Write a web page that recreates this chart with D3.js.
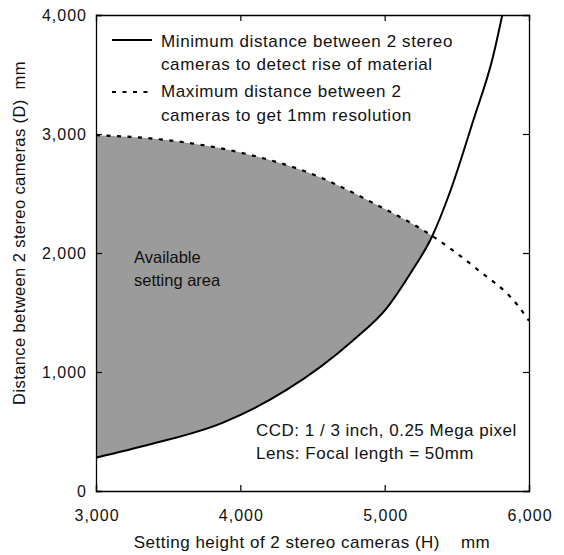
<!DOCTYPE html>
<html><head><meta charset="utf-8">
<script src="https://cdn.jsdelivr.net/npm/d3@7"></script>
<style>
body{margin:0;background:#fff;}
svg text{font-family:"Liberation Sans",Arial,sans-serif;fill:#111;white-space:pre;}
</style></head>
<body><svg id="c" width="564" height="555"></svg>
<script>
// Minimum distance curve (solid): H (mm), D (mm)
const minH = [3000,3370,3880,4320,4780,5020,5180,5330,5450,5615,5750,5815];
const minD = [280, 390, 575, 849,1265,1546,1832,2143,2504,3118,3647,4000];
// Maximum distance curve (dotted)
const maxH = [3000,3420,4070,4480,4920,5330,5630,5920,6000];
const maxD = [2990,2958,2824,2672,2420,2143,1874,1563,1430];
const xTicks = [3000,4000,5000,6000];
const yTicks = [0,1000,2000,3000,4000];
const legendLines = [["Minimum distance between 2 stereo","cameras to detect rise of material"],
                     ["Maximum distance between 2","cameras to get 1mm resolution"]];
const areaLabel = ["Available","setting area"];
const noteLines = ["CCD: 1 / 3 inch, 0.25 Mega pixel","Lens: Focal length = 50mm"];
const xTitle = "Setting height of 2 stereo cameras (H)    mm";
const yTitle = "Distance between 2 stereo cameras (D)  mm";

const L=96,R=529,T=15,B=491;
const svg=d3.select("#c");
svg.append("rect").attr("width",564).attr("height",555).attr("fill","#fff");
const x=d3.scaleLinear().domain([3000,6000]).range([L,R]);
const y=d3.scaleLinear().domain([0,4000]).range([B,T]);

const minPts=minH.map((h,i)=>[h,minD[i]]);
const maxPts=maxH.map((h,i)=>[h,maxD[i]]);
const curve=d3.curveMonotoneX;

// clip: region above the minimum curve
svg.append("clipPath").attr("id","aboveMin").append("path")
  .attr("d",d3.area().curve(curve).x(p=>x(p[0])).y0(T-5).y1(p=>y(p[1]))(minPts));
// grey: region under the maximum curve, clipped to above the min curve
svg.append("path").attr("clip-path","url(#aboveMin)")
  .attr("d",d3.area().curve(curve).x(p=>x(p[0])).y0(B).y1(p=>y(p[1]))(maxPts))
  .attr("fill","#9b9b9b");

const dash="4,6.5";
const line=d3.line().curve(curve).x(p=>x(p[0])).y(p=>y(p[1]));
svg.append("path").attr("d",line(maxPts)).attr("fill","none").attr("stroke","#000").attr("stroke-width",2.2).attr("stroke-dasharray",dash);
svg.append("path").attr("d",line(minPts)).attr("fill","none").attr("stroke","#000").attr("stroke-width",2);

// axes
const fs=16;
const gx=svg.append("g").attr("transform",`translate(0,${B})`).call(d3.axisBottom(x).tickValues(xTicks).tickSize(-6).tickPadding(19).tickFormat(d3.format(",")));
const gy=svg.append("g").attr("transform",`translate(${L},0)`).call(d3.axisLeft(y).tickValues(yTicks).tickSize(-6).tickPadding(9).tickFormat(d3.format(",")));
svg.append("g").attr("transform",`translate(0,${T})`).call(d3.axisTop(x).tickValues([4000,5000]).tickSize(-6).tickFormat(""));
svg.append("g").attr("transform",`translate(${R},0)`).call(d3.axisRight(y).tickValues([1000,2000,3000]).tickSize(-6).tickFormat(""));
svg.selectAll(".domain").attr("stroke","#000").attr("stroke-width",1.3);
svg.selectAll(".tick line").attr("stroke","#000").attr("stroke-width",1.2);
svg.selectAll(".tick text").attr("font-size",fs).attr("font-family","Liberation Sans, Arial, sans-serif").attr("fill","#111").style("letter-spacing","1px");
gx.selectAll(".tick text").attr("dx","0.5px");

// legend
const lg=svg.append("g");
[[40,null],[92,dash]].forEach((d,i)=>{
  lg.append("line").attr("x1",112).attr("x2",152).attr("y1",d[0]).attr("y2",d[0]).attr("stroke","#000").attr("stroke-width",2).attr("stroke-dasharray",d[1]);
});
const lgY=[[47,70],[97,121]];
legendLines.forEach((ls,i)=>ls.forEach((t,j)=>{
  lg.append("text").attr("x",161).attr("y",lgY[i][j]).attr("font-size",17).style("letter-spacing","0.6px").text(t);
}));

areaLabel.forEach((t,i)=>svg.append("text").attr("x",134).attr("y",263+i*23).attr("font-size",16.5).text(t));
noteLines.forEach((t,i)=>svg.append("text").attr("x",256).attr("y",436+i*23).attr("font-size",17).style("letter-spacing","0.5px").text(t));

svg.append("text").attr("x",312).attr("y",548).attr("text-anchor","middle").attr("font-size",17).style("letter-spacing","0.5px").text(xTitle);
svg.append("text").attr("transform","translate(25,233) rotate(-90)").attr("text-anchor","middle").attr("font-size",16.5).style("letter-spacing","0.4px").text(yTitle);
</script></body></html>
